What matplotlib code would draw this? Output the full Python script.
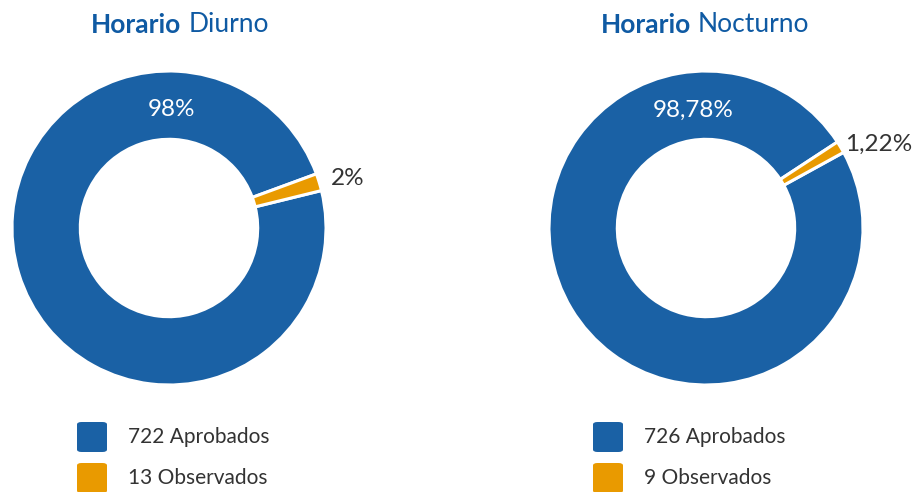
"""Two donut charts: approved vs observed, day and night shift."""

import matplotlib
import matplotlib.pyplot as plt
import numpy as np
from matplotlib.patches import FancyBboxPatch

matplotlib.use("Agg")

W, H = 913, 492

# data
shifts = ["Diurno", "Nocturno"]
aprobados = [722, 726]
observados = [13, 9]
decimals = [0, 2]
status_names = ["Aprobados", "Observados"]

BLUE = "#1a61a5"
ORANGE = "#e99a00"
TITLE_BLUE = "#0f5aa3"
TEXT = "#333333"

# layout (pixels)
centers = [(169, 228), (706, 228)]
radius = 157
start_angles = [13.8, 28.8]
blue_label_angle = [89, 96]
orange_label_r = [1.075, 1.035]
title_x = [180, 705]
legend_x = [77, 593]

plt.rcParams["font.family"] = ["Lato", "DejaVu Sans"]

fig = plt.figure(figsize=(W / 100, H / 100), dpi=100)


def fmt(v, d):
    return f"{v:.{d}f}%".replace(".", ",")


def fx(px):
    return px / W


def fy(py):
    return 1 - py / H


for i, shift in enumerate(shifts):
    cx, cy = centers[i]
    ax = fig.add_axes([fx(cx - radius), fy(cy + radius), 2 * radius / W, 2 * radius / H])
    vals = [aprobados[i], observados[i]]
    total = sum(vals)
    ax.pie(vals, colors=[BLUE, ORANGE], startangle=start_angles[i], counterclock=False,
           radius=1, wedgeprops=dict(width=0.435, edgecolor="white", linewidth=2.2))
    ax.set_xlim(-1, 1)
    ax.set_ylim(-1, 1)
    ax.set_aspect("equal")
    ax.axis("off")

    pct = [v / total * 100 for v in vals]
    a = np.deg2rad(blue_label_angle[i])
    ax.text(0.755 * np.cos(a), 0.755 * np.sin(a), fmt(pct[0], decimals[i]),
            color="white", fontsize=17.5, ha="center", va="center")
    m = np.deg2rad(start_angles[i] + pct[1] / 100 * 360 / 2)
    ro = orange_label_r[i]
    ax.text(ro * np.cos(m), ro * np.sin(m), fmt(pct[1], decimals[i]),
            color=TEXT, fontsize=17.5, ha="left", va="center", clip_on=False)

    # title: bold "Horario" + regular shift name, centred together
    gap = 7
    t1 = fig.text(0, fy(25), "Horario", fontsize=19, fontweight="bold",
                  color=TITLE_BLUE, va="center", ha="left")
    t2 = fig.text(0, fy(25), shift, fontsize=19, color=TITLE_BLUE,
                  va="center", ha="left")
    r = fig.canvas.get_renderer()
    w1 = t1.get_window_extent(r).width
    w2 = t2.get_window_extent(r).width
    x0 = title_x[i] - (w1 + gap + w2) / 2
    t1.set_x(fx(x0))
    t2.set_x(fx(x0 + w1 + gap))

    # legend
    counts = [aprobados[i], observados[i]]
    for j, (name, col) in enumerate(zip(status_names, [BLUE, ORANGE])):
        yc = 437 + j * 41
        box = FancyBboxPatch((fx(legend_x[i]), fy(yc + 15)), 30 / W, 30 / H,
                             boxstyle="round,pad=0,rounding_size=0.005",
                             transform=fig.transFigure, facecolor=col,
                             edgecolor="none")
        fig.patches.append(box)
        fig.text(fx(legend_x[i] + 51), fy(yc), f"{counts[j]} {name}",
                 fontsize=15, color=TEXT, ha="left", va="center")

fig.savefig("out.png", dpi=100)
